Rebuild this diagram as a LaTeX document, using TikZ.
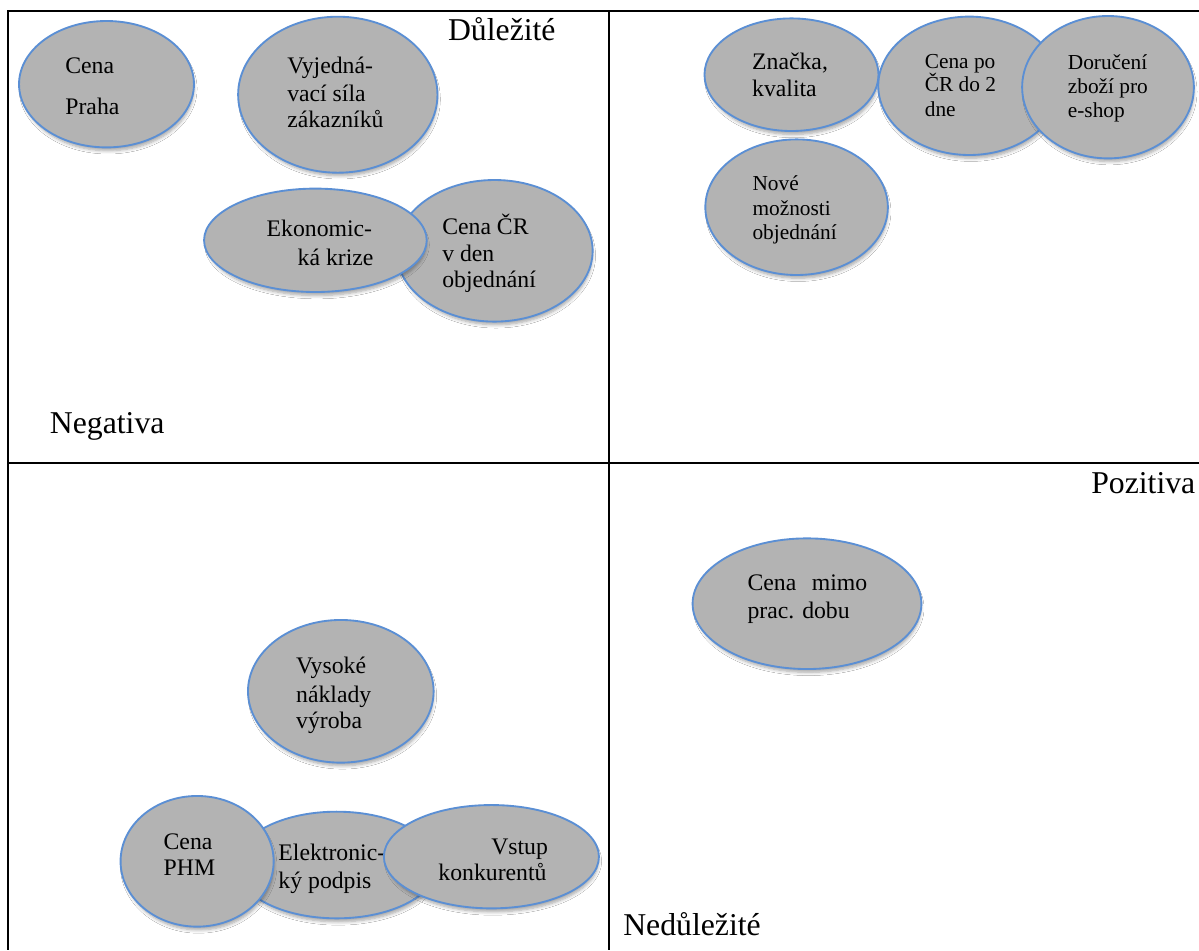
\documentclass[tikz,border=0pt]{standalone}
\usepackage{fontspec}
\setmainfont{Liberation Serif}
\usetikzlibrary{shapes.geometric,shadows.blur}
\definecolor{bubblefill}{HTML}{B3B3B3}
\definecolor{bubbleline}{HTML}{5B8FD4}
\begin{document}
\begin{tikzpicture}[x=0.75pt,y=-0.75pt,
  bubble/.style={ellipse, draw=bubbleline, fill=bubblefill, line width=1.4pt, inner sep=0pt,
    blur shadow={shadow xshift=1.2pt, shadow yshift=-3.5pt, shadow scale=0.98, shadow opacity=35, shadow blur steps=6, shadow blur radius=2.5pt}},
  txt/.style={anchor=base west, inner sep=0pt, font=\fontsize{17.8}{20}\selectfont},
  stxt/.style={txt, font=\fontsize{16}{18}\selectfont},
  lbl/.style={anchor=base west, inner sep=0pt, font=\fontsize{23.8}{27}\selectfont},
  gridline/.style={line width=1.35pt, black}]
\useasboundingbox (0,0) rectangle (1199,950);
\fill[white] (0,0) rectangle (1199,950);

% table lines
\coordinate (tl) at (7.7,11);
\coordinate (tr) at (1199,11);
\coordinate (bl) at (7.7,950);
\coordinate (mt) at (609,11);
\coordinate (mb) at (609,950);
\coordinate (ml) at (7.7,462.7);
\coordinate (mr) at (1199,462.7);
\draw[gridline] (tr) -- (tl) -- (bl);
\draw[gridline] (mt) -- (mb);
\draw[gridline] (ml) -- (mr);

% top-left quadrant
\node[bubble, minimum width=131.2pt, minimum height=94.8pt] (cpraha) at (106.5,84.2) {};
\node[txt] (cpraha1) at (65.1,73) {Cena};
\node[txt] (cpraha2) at (65.1,114) {Praha};

\node[bubble, minimum width=149.5pt, minimum height=117pt] (vyj) at (337.8,94.7) {};
\node[txt] (vyj1) at (287,73.3) {Vyjedná-};
\node[txt] (vyj2) at (287,101) {vací síla};
\node[txt] (vyj3) at (287,127.7) {zákazníků};

\node[bubble, minimum width=147.2pt, minimum height=106.2pt] (ccr) at (494.5,250.8) {};
\node[txt] (ccr1) at (442,234.3) {Cena ČR};
\node[txt] (ccr2) at (442,261.7) {v den};
\node[txt] (ccr3) at (442,287.7) {objednání};

\node[bubble, minimum width=167pt, minimum height=77.55pt] (ekon) at (315.4,240.3) {};
\node[txt] (ekon1) at (266.4,236.7) {Ekonomic-};
\node[txt] (ekon2) at (297.4,265) {ká krize};

% top-right quadrant
\node[bubble, minimum width=130.5pt, minimum height=84.45pt] (znacka) at (791.5,74.7) {};
\node[txt] (znacka1) at (751.9,69) {Značka,};
\node[txt] (znacka2) at (751.9,96.7) {kvalita};

\node[bubble, minimum width=136.6pt, minimum height=103.8pt] (cpocr) at (969.3,85.8) {};
\node[stxt] (cpocr1) at (924.6,68.3) {Cena po};
\node[stxt] (cpocr2) at (924.6,91.7) {ČR do 2};
\node[stxt] (cpocr3) at (924.6,116.7) {dne};

\node[bubble, minimum width=128.8pt, minimum height=106.8pt] (doruc) at (1108,87.2) {};
\node[stxt] (doruc1) at (1067.6,69) {Doručení};
\node[stxt] (doruc2) at (1067.6,93.3) {zboží pro};
\node[stxt] (doruc3) at (1067.6,117.3) {e-shop};

\node[bubble, minimum width=136.9pt, minimum height=101.7pt] (nove) at (796.6,207.2) {};
\node[stxt] (nove1) at (752.3,190.7) {Nové};
\node[stxt] (nove2) at (752.3,215) {možnosti};
\node[stxt] (nove3) at (752.3,239.3) {objednání};

% bottom-left quadrant
\node[bubble, minimum width=139.2pt, minimum height=107pt] (vys) at (340.8,691.3) {};
\node[txt] (vys1) at (295.9,673.3) {Vysoké};
\node[txt] (vys2) at (295.9,702.3) {náklady};
\node[txt] (vys3) at (295.9,728.3) {výroba};

\node[bubble, minimum width=151.5pt, minimum height=80pt] (elek) at (336.7,865) {};
\node[txt] (elek1) at (278.2,860.7) {Elektronic-};
\node[txt] (elek2) at (278.2,888.3) {ký podpis};

\node[bubble, minimum width=114.8pt, minimum height=98pt] (cphm) at (197.1,861.3) {};
\node[txt] (cphm1) at (163.4,849) {Cena};
\node[txt] (cphm2) at (163.4,875.7) {PHM};

\node[bubble, minimum width=161.3pt, minimum height=77.5pt] (vstup) at (491.4,856.7) {};
\node[txt] (vstup1) at (491,854) {Vstup};
\node[txt] (vstup2) at (438.2,880.7) {konkurentů};

% bottom-right quadrant
\node[bubble, minimum width=171.6pt, minimum height=98pt] (mimo) at (807,603.7) {};
\node[txt] (mimo1) at (747.3,590.7) {Cena\hspace{11.6pt}mimo};
\node[txt] (mimo2) at (747.3,618.3) {prac. dobu};

% quadrant labels
\node[lbl] (dulezite) at (447.8,40.7) {Důležité};
\node[lbl] (negativa) at (49.7,433.3) {Negativa};
\node[lbl] (pozitiva) at (1091,493.3) {Pozitiva};
\node[lbl] (nedulezite) at (623,935) {Nedůležité};
\end{tikzpicture}
\end{document}
